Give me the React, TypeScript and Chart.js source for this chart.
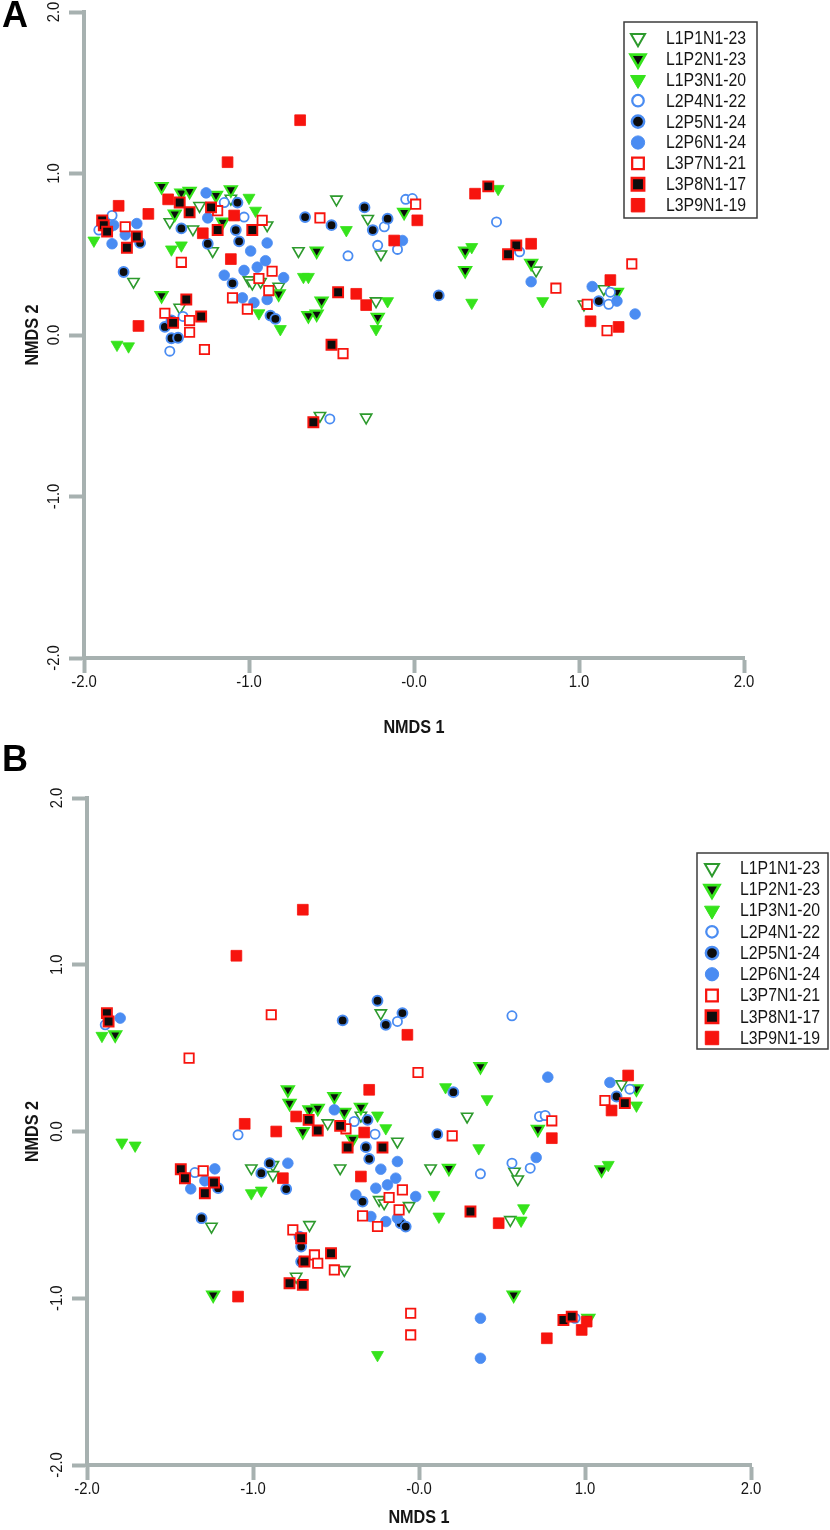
import React, { useEffect, useRef } from 'react';
import { Chart, registerables } from 'chart.js';

Chart.register(...registerables);

type Pt = [number, number];

// ---------------- Panel A data (NMDS 1, NMDS 2) ----------------
const A_L1P1: Pt[] = [[-1.70,0.33],[-1.30,0.80],[-1.48,0.70],[-1.34,0.655],[-1.11,0.845],[-0.89,0.68],[-1.22,0.52],[-1.00,0.34],[-0.98,0.32],[-0.82,0.30],[-1.42,0.17],[-0.47,0.84],[-0.28,0.72],[-0.20,0.50],[-0.70,0.52],[-0.23,0.21],[0.74,0.40],[1.15,0.285],[-0.57,-0.50],[-0.29,-0.51],[1.03,0.19],[-1.84,0.66],[-0.93,0.33]];
const A_L1P2: Pt[] = [[-1.53,0.92],[-1.41,0.88],[-1.36,0.89],[-1.45,0.75],[-1.20,0.865],[-1.11,0.90],[-1.16,0.70],[-0.82,0.255],[-1.53,0.245],[-0.06,0.76],[-0.59,0.52],[-0.56,0.21],[-0.64,0.12],[-0.59,0.13],[-0.22,0.11],[0.31,0.52],[0.31,0.40],[0.71,0.445],[1.23,0.265]];
const A_L1P3: Pt[] = [[-1.94,0.585],[-1.80,-0.06],[-1.73,-0.07],[-1.47,0.53],[-1.41,0.555],[-1.00,0.85],[-0.96,0.77],[-0.94,0.135],[-0.81,0.037],[-0.41,0.65],[-0.67,0.36],[-0.64,0.36],[-0.16,0.21],[-0.23,0.037],[0.51,0.905],[0.35,0.545],[0.35,0.20],[0.78,0.21]];
const A_L2P4: Pt[] = [[-1.83,0.74],[-1.91,0.65],[-1.40,0.115],[-1.48,-0.10],[-1.15,0.82],[-1.03,0.73],[-0.18,0.67],[-0.05,0.84],[-0.01,0.845],[-0.22,0.555],[-0.10,0.53],[-0.40,0.49],[0.50,0.70],[0.64,0.515],[1.19,0.265],[1.18,0.19],[-0.51,-0.52]];
const A_L2P5: Pt[] = [[-1.66,0.57],[-1.76,0.39],[-1.41,0.66],[-1.25,0.565],[-1.07,0.82],[-1.08,0.65],[-1.06,0.58],[-1.10,0.32],[-0.87,0.12],[-0.84,0.10],[-1.51,0.05],[-1.47,0.09],[-1.47,-0.02],[-1.43,-0.017],[-0.66,0.73],[-0.50,0.68],[-0.30,0.79],[-0.25,0.65],[-0.16,0.72],[0.15,0.245],[1.12,0.21]];
const A_L2P6: Pt[] = [[-1.82,0.68],[-1.68,0.69],[-1.75,0.62],[-1.83,0.565],[-1.26,0.88],[-1.25,0.725],[-0.89,0.57],[-0.99,0.52],[-0.95,0.42],[-0.90,0.46],[-1.03,0.40],[-1.15,0.37],[-0.79,0.355],[-0.89,0.22],[-0.97,0.20],[-1.04,0.23],[-0.07,0.585],[0.71,0.33],[1.08,0.30],[1.23,0.21],[1.34,0.13]];
const A_L3P7: Pt[] = [[-1.75,0.67],[-1.19,0.77],[-0.92,0.71],[-1.41,0.45],[-0.94,0.35],[-0.86,0.395],[-0.88,0.275],[-1.10,0.23],[-1.01,0.16],[-1.51,0.135],[-1.36,0.09],[-1.36,0.017],[-1.27,-0.09],[-0.57,0.725],[0.01,0.81],[-0.43,-0.115],[1.32,0.44],[0.86,0.29],[1.05,0.19],[1.17,0.027]];
const A_L3P8: Pt[] = [[-1.89,0.71],[-1.88,0.68],[-1.86,0.64],[-1.68,0.61],[-1.74,0.54],[-1.42,0.82],[-1.36,0.76],[-1.23,0.79],[-1.19,0.65],[-0.98,0.65],[-1.38,0.22],[-1.46,0.075],[-1.29,0.115],[-0.46,0.265],[-0.50,-0.06],[0.45,0.92],[0.62,0.555],[0.57,0.50],[-0.61,-0.54]];
const A_L3P9: Pt[] = [[-1.79,0.80],[-1.61,0.75],[-1.67,0.056],[-1.49,0.84],[-1.09,0.74],[-1.28,0.63],[-1.11,0.47],[-0.69,1.33],[-1.13,1.07],[0.02,0.71],[-0.12,0.585],[-0.35,0.255],[-0.29,0.185],[0.37,0.875],[0.71,0.565],[1.19,0.34],[1.07,0.085],[1.24,0.05]];

// ---------------- Panel B data ----------------
const B_L1P1: Pt[] = [[-1.01,-0.22],[-0.88,-0.20],[-0.88,-0.26],[-1.25,-0.57],[-0.66,-0.56],[-0.23,0.71],[0.29,0.09],[-0.55,0.05],[-0.35,0.096],[-0.13,-0.06],[-0.475,-0.22],[-0.24,-0.41],[-0.21,-0.43],[-0.06,-0.446],[0.07,-0.22],[0.575,-0.24],[0.595,-0.286],[0.55,-0.53],[1.22,0.284],[-0.74,-0.87],[-0.45,-0.83]];
const B_L1P2: Pt[] = [[-1.83,0.58],[-0.79,0.25],[-0.78,0.17],[-0.66,0.13],[-0.61,0.14],[-0.70,0.0],[-0.51,0.21],[-0.45,0.116],[-0.35,0.146],[-0.40,-0.046],[0.37,0.39],[0.716,0.014],[0.18,-0.22],[1.31,0.256],[1.10,-0.23],[-1.24,-0.98],[0.57,-0.98],[1.02,-1.12]];
const B_L1P3: Pt[] = [[-1.91,0.574],[-1.79,-0.066],[-1.71,-0.084],[-1.01,-0.37],[-0.95,-0.354],[0.16,0.266],[0.41,0.194],[-0.25,0.096],[-0.20,0.02],[0.36,-0.10],[0.09,-0.38],[0.12,-0.51],[0.63,-0.46],[0.615,-0.534],[1.31,0.156],[1.14,-0.20],[-0.25,-1.34]];
const B_L2P4: Pt[] = [[-1.89,0.64],[-1.09,-0.02],[-1.35,-0.246],[0.56,0.694],[-0.13,0.66],[0.726,0.09],[0.76,0.096],[-0.39,0.06],[-0.265,-0.016],[0.37,-0.254],[0.56,-0.19],[0.67,-0.22],[1.27,0.254],[0.94,-1.12]];
const B_L2P5: Pt[] = [[-1.21,-0.34],[-0.90,-0.19],[-0.95,-0.25],[-0.80,-0.345],[-1.31,-0.52],[-0.25,0.784],[-0.46,0.666],[-0.20,0.64],[-0.10,0.71],[0.207,0.236],[-0.31,0.07],[-0.32,-0.094],[-0.30,-0.164],[-0.34,-0.42],[0.11,-0.016],[1.19,0.21],[-0.72,-0.63],[-0.71,-0.69],[-0.71,-0.78],[-0.11,-0.55],[-0.08,-0.57]];
const B_L2P6: Pt[] = [[-1.80,0.68],[-1.23,-0.224],[-1.29,-0.296],[-1.375,-0.344],[-0.79,-0.19],[0.776,0.326],[-0.51,0.13],[-0.13,-0.18],[-0.23,-0.226],[-0.14,-0.28],[-0.19,-0.32],[-0.26,-0.34],[-0.38,-0.38],[-0.02,-0.39],[-0.13,-0.52],[-0.29,-0.51],[-0.20,-0.54],[0.706,-0.156],[1.15,0.294],[0.37,-1.12],[0.37,-1.36]];
const B_L3P7: Pt[] = [[-0.89,0.70],[-1.385,0.44],[-1.30,-0.236],[-0.76,-0.59],[-0.006,0.354],[0.80,0.064],[-0.44,0.016],[-0.18,-0.396],[-0.10,-0.35],[-0.12,-0.47],[-0.34,-0.506],[-0.25,-0.57],[0.20,-0.026],[1.12,0.186],[-0.63,-0.74],[-0.61,-0.79],[-0.51,-0.83],[-0.05,-1.09],[-0.05,-1.22]];
const B_L3P8: Pt[] = [[-1.88,0.71],[-1.87,0.66],[-0.665,0.07],[-0.61,0.006],[-1.435,-0.226],[-1.41,-0.28],[-1.235,-0.306],[-1.29,-0.37],[-0.475,0.034],[-0.43,-0.096],[-0.22,-0.096],[0.31,-0.48],[1.24,0.17],[-0.71,-0.64],[-0.69,-0.78],[-0.78,-0.91],[-0.70,-0.92],[-0.53,-0.73],[0.87,-1.13],[0.92,-1.11]];
const B_L3P9: Pt[] = [[-1.10,1.054],[-0.70,1.33],[-0.74,0.09],[-1.05,0.046],[-0.86,0.0],[-0.82,-0.28],[-0.07,0.58],[-0.30,0.25],[-0.33,-0.006],[-0.35,-0.27],[0.48,-0.55],[1.26,0.336],[1.16,0.126],[0.80,-0.04],[-1.09,-0.99],[0.77,-1.24],[0.98,-1.19],[1.01,-1.14]];

// ---------------- Labels / ticks ----------------
const seriesNames = ['L1P1N1-23','L1P2N1-23','L1P3N1-20','L2P4N1-22','L2P5N1-24','L2P6N1-24','L3P7N1-21','L3P8N1-17','L3P9N1-19'];
const xTickValues = [-2, -1, 0, 1, 2];
const xTickLabels = ['-2.0', '-1.0', '-0.0', '1.0', '2.0'];
const yTickValues = [-2, -1, 0, 1, 2];
const yTickLabels = ['-2.0', '-1.0', '0.0', '1.0', '2.0'];
const xAxisTitle = 'NMDS 1';
const yAxisTitle = 'NMDS 2';

// ---------------- Styles ----------------
const FONT = "'Liberation Sans', Arial, sans-serif";
const AXIS_GRAY = '#a7b1b0';
const TEXT = '#151515';
const GREEN_DARK = '#2d9a2d';
const GREEN = '#35e31b';
const BLUE = '#4a8cf2';
const RED = '#f7140e';
const BLACK = '#0d0d0d';
const seriesShapes = ['triangle','triangle','triangle','circle','circle','circle','rect','rect','rect'];
const seriesFill = ['#ffffff', BLACK, GREEN, '#ffffff', BLACK, BLUE, '#ffffff', BLACK, RED];
const seriesBorder = [GREEN_DARK, GREEN, GREEN, BLUE, BLUE, BLUE, RED, RED, RED];
const seriesRadius = [6.5, 6.8, 6.9, 4.6, 4.9, 5.3, 6.6, 7.0, 7.6];
const seriesBorderWidth = [1.6, 2.2, 0.8, 1.8, 2, 0.8, 1.8, 2, 0.8];

type PanelCfg = {
  letter: string;
  top: number;
  height: number;
  area: { left: number; right: number; top: number; bottom: number };
  legend: { x: number; y: number; w: number; h: number; rowStart: number; rowStep: number; markerDx: number; textDx: number };
  xTitleY: number;
  yTitleX: number;
  letterY: number;
  series: Pt[][];
};

const panels: PanelCfg[] = [
  {
    letter: 'A', top: 0, height: 760,
    area: { left: 84, right: 744, top: 12, bottom: 658 },
    legend: { x: 624, y: 22, w: 133, h: 196, rowStart: 16, rowStep: 20.9, markerDx: 14, textDx: 42 },
    xTitleY: 728, yTitleX: 33, letterY: 17,
    series: [A_L1P1, A_L1P2, A_L1P3, A_L2P4, A_L2P5, A_L2P6, A_L3P7, A_L3P8, A_L3P9],
  },
  {
    letter: 'B', top: 730, height: 800,
    area: { left: 87, right: 751, top: 68, bottom: 735 },
    legend: { x: 697, y: 123, w: 131, h: 196, rowStart: 15, rowStep: 21.25, markerDx: 15, textDx: 43 },
    xTitleY: 788, yTitleX: 33, letterY: 31,
    series: [B_L1P1, B_L1P2, B_L1P3, B_L2P4, B_L2P5, B_L2P6, B_L3P7, B_L3P8, B_L3P9],
  },
];

function drawMarker(ctx: CanvasRenderingContext2D, i: number, x: number, y: number, scale: number) {
  const r = seriesRadius[i] * scale;
  const shape = seriesShapes[i];
  ctx.beginPath();
  if (shape === 'triangle') {
    let a = Math.PI;
    ctx.moveTo(x + Math.sin(a) * r, y - Math.cos(a) * r);
    a += (2 * Math.PI) / 3;
    ctx.lineTo(x + Math.sin(a) * r, y - Math.cos(a) * r);
    a += (2 * Math.PI) / 3;
    ctx.lineTo(x + Math.sin(a) * r, y - Math.cos(a) * r);
    ctx.closePath();
  } else if (shape === 'circle') {
    ctx.arc(x, y, r, 0, Math.PI * 2);
  } else {
    const s = r * Math.SQRT1_2;
    ctx.rect(x - s, y - s, 2 * s, 2 * s);
  }
  ctx.fillStyle = seriesFill[i];
  ctx.fill();
  ctx.lineWidth = seriesBorderWidth[i] * scale;
  ctx.strokeStyle = seriesBorder[i];
  ctx.stroke();
}

// text drawn with a slight horizontal condensation (the original uses a narrow face)
function drawText(ctx: CanvasRenderingContext2D, text: string, x: number, y: number, sx: number, rot = 0) {
  ctx.save();
  ctx.translate(x, y);
  if (rot) ctx.rotate(rot);
  ctx.scale(sx, 1);
  ctx.fillText(text, 0, 0);
  ctx.restore();
}

function Panel({ cfg }: { cfg: PanelCfg }) {
  const ref = useRef<HTMLCanvasElement>(null);
  useEffect(() => {
    const canvas = ref.current;
    if (!canvas) return;
    const { area } = cfg;
    const datasets = cfg.series.map((pts, i) => ({
      label: seriesNames[i],
      data: pts.map(([x, y]) => ({ x, y })),
      pointStyle: seriesShapes[i] as any,
      pointRotation: seriesShapes[i] === 'triangle' ? 180 : 0,
      pointRadius: seriesRadius[i],
      pointHoverRadius: seriesRadius[i],
      pointBackgroundColor: seriesFill[i],
      pointBorderColor: seriesBorder[i],
      pointBorderWidth: seriesBorderWidth[i],
      order: 8 - i,
      clip: false as any,
    }));

    const decor = {
      id: 'decor',
      afterDraw(chart: any) {
        const ctx: CanvasRenderingContext2D = chart.ctx;
        const xs = chart.scales.x;
        const ys = chart.scales.y;
        ctx.save();
        ctx.fillStyle = TEXT;
        ctx.textAlign = 'center';
        ctx.textBaseline = 'middle';
        // tick labels
        ctx.font = `16px ${FONT}`;
        yTickValues.forEach((v, i) => {
          drawText(ctx, yTickLabels[i], area.left - 29, ys.getPixelForValue(v), 0.93, -Math.PI / 2);
        });
        xTickValues.forEach((v, i) => {
          drawText(ctx, xTickLabels[i], xs.getPixelForValue(v), area.bottom + 25, 0.93);
        });
        // axis titles
        ctx.font = `bold 18px ${FONT}`;
        drawText(ctx, xAxisTitle, (xs.left + xs.right) / 2, cfg.xTitleY, 0.9);
        drawText(ctx, yAxisTitle, cfg.yTitleX, (ys.top + ys.bottom) / 2, 0.9, -Math.PI / 2);
        // panel letter
        ctx.font = `bold 36px ${FONT}`;
        ctx.fillStyle = '#000';
        ctx.fillText(cfg.letter, 15, cfg.letterY);
        // legend
        const lg = cfg.legend;
        ctx.fillStyle = '#ffffff';
        ctx.fillRect(lg.x, lg.y, lg.w, lg.h);
        ctx.strokeStyle = '#3c3c3c';
        ctx.lineWidth = 1.5;
        ctx.strokeRect(lg.x, lg.y, lg.w, lg.h);
        ctx.font = `18px ${FONT}`;
        ctx.textAlign = 'left';
        ctx.textBaseline = 'middle';
        seriesNames.forEach((name, i) => {
          const cy = lg.y + lg.rowStart + i * lg.rowStep;
          drawMarker(ctx, i, lg.x + lg.markerDx, cy, 1.25);
          ctx.fillStyle = TEXT;
          drawText(ctx, name, lg.x + lg.textDx, cy + 1, 0.88);
        });
        ctx.restore();
      },
    };

    const chart = new Chart(canvas, {
      type: 'scatter',
      data: { datasets },
      options: {
        responsive: false,
        animation: false,
        devicePixelRatio: 1,
        events: [],
        layout: { padding: { left: 0, top: area.top, right: 830 - area.right, bottom: 0 } },
        plugins: { legend: { display: false }, tooltip: { enabled: false } },
        scales: {
          x: {
            type: 'linear',
            position: 'bottom',
            min: -2,
            max: 2,
            afterFit: (s: any) => { s.height = cfg.height - area.bottom; },
            afterBuildTicks: (s: any) => { s.ticks = xTickValues.map((v) => ({ value: v })); },
            ticks: { display: false },
            grid: { drawOnChartArea: false, drawTicks: true, tickLength: 15, tickWidth: 4, tickColor: AXIS_GRAY, color: AXIS_GRAY },
            border: { display: true, color: AXIS_GRAY, width: 4 },
          },
          y: {
            type: 'linear',
            position: 'left',
            min: -2,
            max: 2,
            afterFit: (s: any) => { s.width = area.left; },
            afterBuildTicks: (s: any) => { s.ticks = yTickValues.map((v) => ({ value: v })); },
            ticks: { display: false },
            grid: { drawOnChartArea: false, drawTicks: true, tickLength: 15, tickWidth: 4, tickColor: AXIS_GRAY, color: AXIS_GRAY },
            border: { display: true, color: AXIS_GRAY, width: 4 },
          },
        },
      } as any,
      plugins: [decor],
    });
    return () => chart.destroy();
  }, [cfg]);
  return (
    <canvas
      ref={ref}
      width={830}
      height={cfg.height}
      style={{ position: 'absolute', left: 0, top: cfg.top, width: 830, height: cfg.height }}
    />
  );
}

export default function App() {
  return (
    <div style={{ position: 'absolute', left: 0, top: 0, width: 830, height: 1530, background: '#ffffff', overflow: 'hidden' }}>
      {panels.map((p) => (
        <Panel key={p.letter} cfg={p} />
      ))}
    </div>
  );
}
